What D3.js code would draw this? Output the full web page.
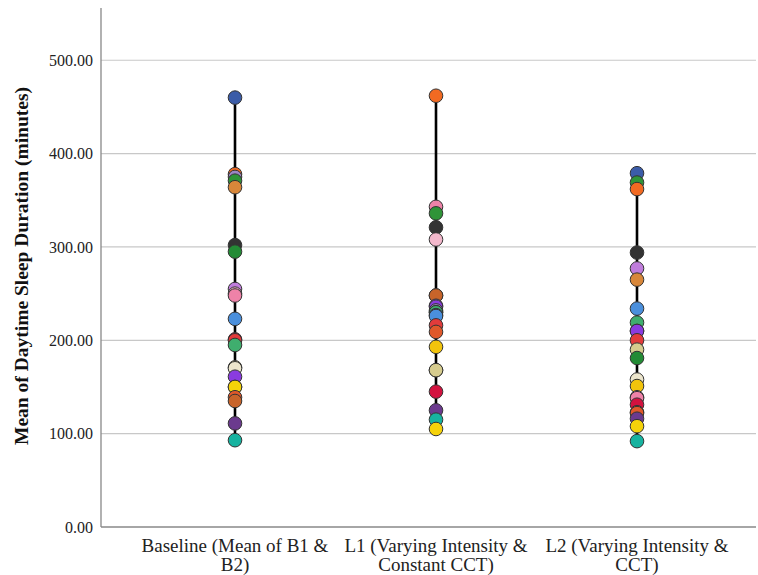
<!DOCTYPE html>
<html>
<head>
<meta charset="utf-8">
<script src="https://cdn.jsdelivr.net/npm/d3@7"></script>
<style>
  body { margin: 0; background: #fff; }
  text { font-family: "Liberation Serif", "Times New Roman", serif; }
</style>
</head>
<body>
<svg id="chart" width="758" height="575"></svg>
<script>
// group labels on the x axis (each split on two lines)
var groups = ["Baseline", "L1", "L2"];
var groupLabels = [
    ["Baseline (Mean of B1 &", "B2)"],
    ["L1 (Varying Intensity &", "Constant CCT)"],
    ["L2 (Varying Intensity &", "CCT)"]
];

var yTicks = [0, 100, 200, 300, 400, 500];

// one entry per participant, same order in every group
var participants = ["S01", "S02", "S03", "S04", "S05", "S06", "S07", "S08",
    "S09", "S10", "S11", "S12", "S13", "S14", "S15", "S16", "S17", "S18",
    "S19", "S20", "S21", "S22", "S23"];

// mean daytime sleep (minutes)
var baseline = [460, 378, 375, 371, 364, 302, 295, 255, 248, 223, 200, 195,
    170, 161, 150, 139, 135, 111, 93, 150, 171, 201, 250];
var l1 = [227, 462, 232, 336, 248, 321, 230, 237, 343, 226, 216, 230,
    168, 236, 193, 209, 248, 125, 115, 105, 168, 145, 308];
var l2 = [379, 362, 210, 369, 265, 294, 181, 277, 138, 234, 200, 219,
    158, 210, 151, 122, 123, 116, 92, 108, 190, 131, 139];

var palette = ["#3b5ca8", "#f26a22", "#9c86c4", "#2f9438", "#d8873a", "#333333",
    "#238b35", "#c07ddc", "#ee82a8", "#4a8fdc", "#e23b3b", "#3fae6e",
    "#ece5cc", "#8a3be0", "#f2c40c", "#e0582a", "#c8642a", "#6b3a8e",
    "#17b3a0", "#f5d20a", "#d6cc8e", "#d3123f", "#f3b8cc"];

var values = { Baseline: baseline, L1: l1, L2: l2 };

function drawChart() {
    var svg = d3.select("#chart");

    var plotLeft = 101, plotRight = 756, plotTop = 8, plotBottom = 527;

    var x = d3.scalePoint()
        .domain(groups)
        .range([235, 637]);

    var y = d3.scaleLinear()
        .domain([0, 556])
        .range([plotBottom, plotTop]);

    var color = d3.scaleOrdinal()
        .domain(participants)
        .range(palette);

    // gridlines
    svg.append("g")
        .selectAll("line")
        .data(yTicks.filter(d => d > 0))
        .join("line")
        .attr("x1", plotLeft)
        .attr("x2", plotRight)
        .attr("y1", d => y(d))
        .attr("y2", d => y(d))
        .attr("stroke", "#c8c8c8")
        .attr("stroke-width", 1.2);

    // y axis
    var yAxis = svg.append("g")
        .attr("transform", "translate(" + plotLeft + ",0)")
        .call(d3.axisLeft(y).tickValues(yTicks).tickFormat(d3.format(".2f")).tickSize(0).tickPadding(8));
    yAxis.select(".domain").remove();
    yAxis.selectAll("text")
        .attr("font-size", 16)
        .attr("font-family", "Liberation Serif")
        .attr("fill", "#222");

    svg.append("line")
        .attr("x1", plotLeft).attr("x2", plotLeft)
        .attr("y1", plotTop).attr("y2", plotBottom)
        .attr("stroke", "#888").attr("stroke-width", 1.3);

    svg.append("line")
        .attr("x1", plotLeft).attr("x2", plotRight)
        .attr("y1", plotBottom).attr("y2", plotBottom)
        .attr("stroke", "#888").attr("stroke-width", 1.3);

    // x labels, two lines each
    groups.forEach(function (g, i) {
        groupLabels[i].forEach(function (line, k) {
            svg.append("text")
                .attr("x", x(g))
                .attr("y", 552 + k * 19)
                .attr("text-anchor", "middle")
                .attr("font-size", 19)
                .attr("fill", "#222")
                .text(line);
        });
    });

    // y title
    svg.append("text")
        .attr("transform", "translate(28,266) rotate(-90)")
        .attr("text-anchor", "middle")
        .attr("font-size", 19.5)
        .attr("font-weight", "bold")
        .attr("fill", "#111")
        .text("Mean of Daytime Sleep Duration (minutes)");

    // range lines and dots per group
    groups.forEach(function (g) {
        var vals = values[g];
        svg.append("line")
            .attr("x1", x(g)).attr("x2", x(g))
            .attr("y1", y(d3.min(vals)))
            .attr("y2", y(d3.max(vals)))
            .attr("stroke", "#000")
            .attr("stroke-width", 2.6);

        // higher values first so lower dots sit on top
        var pts = participants.map((p, i) => ({ p: p, v: vals[i] }))
            .sort((a, b) => b.v - a.v);

        svg.append("g")
            .selectAll("circle")
            .data(pts)
            .join("circle")
            .attr("cx", x(g))
            .attr("cy", d => y(d.v))
            .attr("r", 6.8)
            .attr("fill", d => color(d.p))
            .attr("stroke", "#333")
            .attr("stroke-width", 1);
    });
}

drawChart();
</script>
</body>
</html>
